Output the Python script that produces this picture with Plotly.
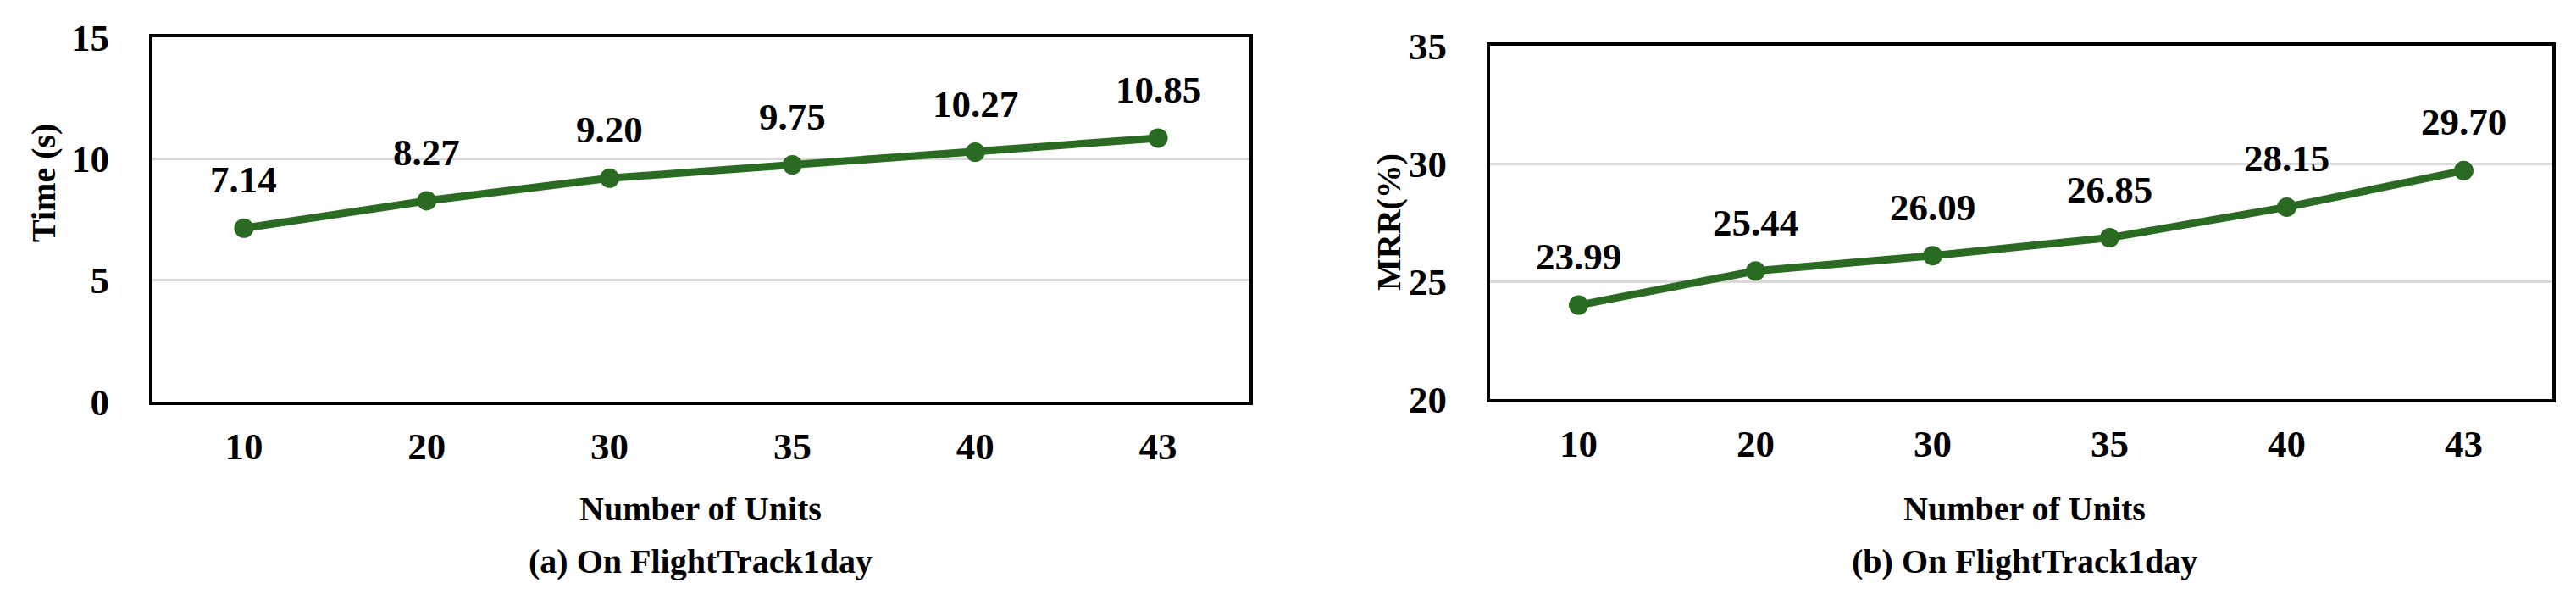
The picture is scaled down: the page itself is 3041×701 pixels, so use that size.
import plotly.graph_objects as go

# data
units = ["10", "20", "30", "35", "40", "43"]
time_s = [7.14, 8.27, 9.20, 9.75, 10.27, 10.85]
mrr = [23.99, 25.44, 26.09, 26.85, 28.15, 29.70]

W, H = 3041, 701
OFF = 8  # page body margin
GREEN = "#2b6a22"
FONT = "Times New Roman, Liberation Serif, serif"


def fx(p):
    return (p - OFF) / W


def fy(p):
    return 1 - (p - OFF) / H


fig = go.Figure()
fig.add_trace(go.Scatter(x=units, y=time_s, mode="lines+markers",
                         line=dict(color=GREEN, width=9),
                         marker=dict(size=23, color=GREEN),
                         xaxis="x", yaxis="y", showlegend=False, hoverinfo="skip"))
fig.add_trace(go.Scatter(x=units, y=mrr, mode="lines+markers",
                         line=dict(color=GREEN, width=9),
                         marker=dict(size=23, color=GREEN),
                         xaxis="x2", yaxis="y2", showlegend=False, hoverinfo="skip"))

tick_font = dict(family=FONT, size=45, color="black", weight="bold")
xcommon = dict(type="category", range=[-0.5, 5.5], showline=True, mirror=True,
               linecolor="black", linewidth=4, showgrid=False, ticks="",
               tickfont=tick_font, ticklabelstandoff=10, fixedrange=True,
               automargin=False)
ycommon = dict(dtick=5, showgrid=True, gridcolor="#d9d9d9", gridwidth=3,
               zeroline=False, showline=True, mirror=True, linecolor="black",
               linewidth=4, ticks="", tickfont=tick_font, ticklabelstandoff=38,
               fixedrange=True, automargin=False)

fig.update_layout(
    width=W, height=H, autosize=False,
    margin=dict(l=0, r=0, t=0, b=0, pad=0),
    paper_bgcolor="white", plot_bgcolor="white",
    xaxis=dict(domain=[fx(180), fx(1475)], anchor="y", **xcommon),
    yaxis=dict(domain=[fy(474), fy(44)], anchor="x", range=[0, 15], tick0=0, **ycommon),
    xaxis2=dict(domain=[fx(1759), fx(3013)], anchor="y2", **xcommon),
    yaxis2=dict(domain=[fy(471), fy(54)], anchor="x2", range=[20, 35], tick0=20, **ycommon),
)

ann = []
label_font = dict(family=FONT, size=45, color="black", weight="bold")
# value labels above each point (x as category index)
for xa, ya, vals in (("x", "y", time_s), ("x2", "y2", mrr)):
    for i, v in enumerate(vals):
        ann.append(dict(x=i, y=v, xref=xa, yref=ya, text=f"{v:.2f}", showarrow=False,
                        xanchor="center", yanchor="middle", yshift=57, font=label_font))

title_font = dict(family=FONT, size=40, color="black", weight="bold")


def paper_text(px, py, text, angle=0):
    return dict(x=fx(px), y=fy(py), xref="paper", yref="paper", text=text,
                textangle=angle, showarrow=False, xanchor="center", yanchor="middle",
                font=title_font)


ann += [
    paper_text(827, 600, "Number of Units"),
    paper_text(2390, 600, "Number of Units"),
    paper_text(827, 662, "(a) On FlightTrack1day"),
    paper_text(2390, 662, "(b) On FlightTrack1day"),
    paper_text(52, 216, "Time (s)", -90),
    paper_text(1640, 262, "MRR(%)", -90),
]
fig.update_layout(annotations=ann)

fig.write_html("out.html")
